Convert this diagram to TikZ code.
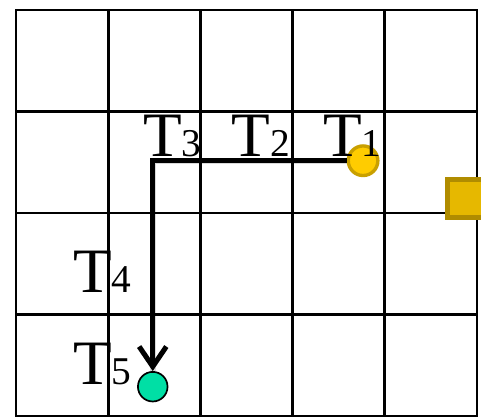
\documentclass[tikz,border=0pt]{standalone}
\usepackage{fontspec}
\setmainfont{Liberation Serif}
\usetikzlibrary{arrows.meta, positioning}

\definecolor{agentgold}{HTML}{FFCC00}
\definecolor{agentedge}{HTML}{C9A000}
\definecolor{goalgreen}{HTML}{00DFA5}
\definecolor{boxgold}{HTML}{E6B800}
\definecolor{boxedge}{HTML}{B08C00}

\newcommand{\steplabel}[1]{T{\fontsize{28}{28}\selectfont #1}}

\begin{document}
\begin{tikzpicture}[x=2.305cm, y=2.5375cm,
	gridline/.style={line width=1.9pt, line cap=rect},
	tlab/.style={anchor=base west, inner sep=0pt, font=\fontsize{45}{45}\selectfont},
	route/.style={line width=3.6pt, -{Straight Barb[length=0.5cm, width=0.68cm]}}]
	% frame of the picture
	\useasboundingbox (-0.1735,-0.0296) rectangle (5.043,4.0985);
	\clip (-0.1735,-0.0296) rectangle (5.043,4.0985);
	
	% grid 5 x 4
	\foreach \i in {0,...,5}
		\draw[gridline] (\i,0) -- (\i,4);
	\foreach \j in {0,...,4}
		\draw[gridline] (0,\j) -- (5,\j);
	
	% agent, goal and box
	\node[circle, draw=agentedge, fill=agentgold, line width=2.4pt, minimum size=0.74cm, inner sep=0pt] (agent) at (3.764,2.515) {};
	\node[circle, draw=black, fill=goalgreen, line width=1.2pt, minimum size=0.74cm, inner sep=0pt] (goal) at (1.483,0.289) {};
	\node[rectangle, draw=boxedge, fill=boxgold, line width=3.5pt, minimum size=0.95cm, inner sep=0pt] (box) at (4.881,2.145) {};
	
	% path taken
	\coordinate (turn) at (goal |- agent);
	\draw[line width=4.4pt, black, opacity=0.15, xshift=0.05cm, yshift=-0.05cm] (agent.west) -- (turn) -- (goal.north);
	\draw[route] (agent.west) -- (turn) -- (goal.north);
	
	% time steps
	\node[tlab] (t1) at (3.330,2.555) {\steplabel{1}};
	\node[tlab] (t2) at (2.339,2.555) {\steplabel{2}};
	\node[tlab] (t3) at (1.377,2.555) {\steplabel{3}};
	\node[tlab] (t4) at (0.618,1.212) {\steplabel{4}};
	\node[tlab] (t5) at (0.618,0.315) {\steplabel{5}};
\end{tikzpicture}
\end{document}
